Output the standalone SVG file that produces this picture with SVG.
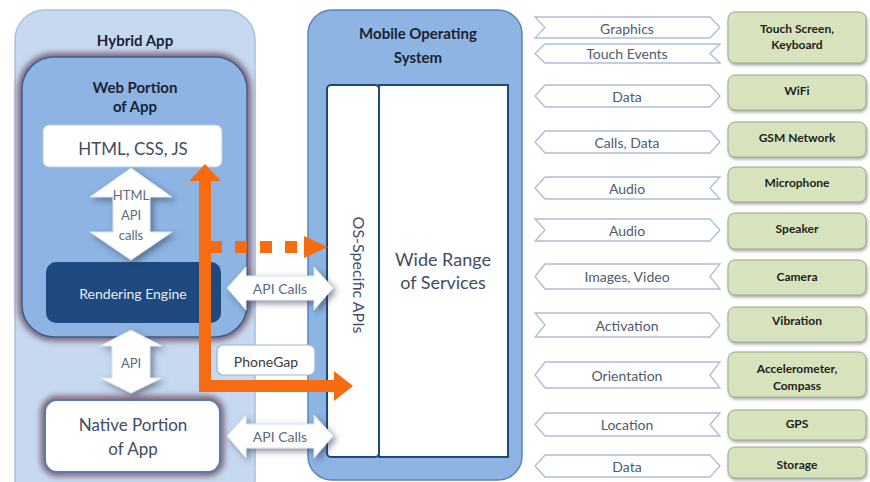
<svg xmlns="http://www.w3.org/2000/svg" width="870" height="482" viewBox="0 0 870 482">
<defs>
<filter id="glow" x="-20%" y="-20%" width="140%" height="140%">
<feGaussianBlur stdDeviation="3"/>
</filter>
<filter id="shadow" x="-20%" y="-30%" width="150%" height="170%">
<feGaussianBlur in="SourceAlpha" stdDeviation="3"/>
<feOffset dx="3" dy="3" result="b"/>
<feFlood flood-color="#2f3b4c" flood-opacity="0.55"/>
<feComposite in2="b" operator="in"/>
<feMerge><feMergeNode/><feMergeNode in="SourceGraphic"/></feMerge>
</filter>
<filter id="gshadow" x="-10%" y="-20%" width="130%" height="150%">
<feGaussianBlur in="SourceAlpha" stdDeviation="1.5"/>
<feOffset dx="1" dy="2" result="b"/>
<feFlood flood-color="#555" flood-opacity="0.5"/>
<feComposite in2="b" operator="in"/>
<feMerge><feMergeNode/><feMergeNode in="SourceGraphic"/></feMerge>
</filter>
</defs>
<style>
text{font-family:Lato,"Open Sans","Liberation Sans",sans-serif;text-anchor:middle;dominant-baseline:central}
.title{font-weight:bold;font-size:15px;fill:#1c2333}
.lbl{font-size:17px;fill:#3f4d63}
.chev{fill:#ffffff;stroke:#aebdd3;stroke-width:1.3}
.ctext{font-size:14px;fill:#4f5b6b}
.green{fill:#d7e3bc;stroke:#9aa88a;stroke-width:1}
.gtext{font-size:12px;font-weight:bold;fill:#1e1e1e}
.warrow{fill:#ffffff;stroke:#d8e2ef;stroke-width:1}
.orange{fill:#f56c12}
</style>

<g id="hybrid-app">
<rect x="15" y="10" width="240" height="500" rx="30" fill="#c6d9f1" stroke="#a9c0dc" stroke-width="1.5"/>
<text class="title" x="135" y="40">Hybrid App</text>
</g>

<g id="web-portion">
<rect x="22" y="57" width="225" height="280" rx="32" fill="none" stroke="#6e4e60" stroke-width="7" filter="url(#glow)"/>
<rect x="22" y="57" width="225" height="280" rx="32" fill="#8db4e3" stroke="#3d5f8f" stroke-width="1.5"/>
<text class="title" x="135" y="87">Web Portion</text>
<text class="title" x="135" y="106">of App</text>
</g>

<g id="html-css-js">
<rect x="43" y="125" width="179" height="42" rx="6" fill="#ffffff" stroke="#b8c9df" stroke-width="1"/>
<text class="lbl" x="133" y="148">HTML, CSS, JS</text>
</g>

<g id="rendering-engine">
<rect x="46" y="262" width="175" height="61" rx="10" fill="#1f4a7f"/>
<text x="133" y="293" style="font-size:14px;fill:#e8eef7">Rendering Engine</text>
</g>

<g id="native-portion">
<rect x="45" y="400" width="175" height="72" rx="12" fill="none" stroke="#7a5a6a" stroke-width="8" filter="url(#glow)"/>
<rect x="45" y="400" width="175" height="72" rx="12" fill="#ffffff" stroke="#5a7aa8" stroke-width="2"/>
<text class="lbl" x="133" y="424">Native Portion</text>
<text class="lbl" x="133" y="448">of App</text>
</g>

<g id="mobile-os">
<rect x="308" y="10" width="214" height="470" rx="24" fill="#8db4e3" stroke="#5b82b8" stroke-width="1.5"/>
<text class="title" x="418" y="33">Mobile  Operating</text>
<text class="title" x="418" y="57">System</text>
</g>

<g id="os-specific-apis">
<rect x="327" y="85" width="52" height="372" rx="4" fill="#ffffff" stroke="#1f497d" stroke-width="2"/>
<text class="lbl" x="0" y="0" transform="translate(359,275) rotate(90)" style="font-size:16px">OS-Specific APIs</text>
</g>

<g id="wide-range">
<rect x="379" y="85" width="129" height="372" fill="#ffffff" stroke="#1f497d" stroke-width="2"/>
<text class="lbl" x="443" y="259" style="font-size:18px">Wide Range</text>
<text class="lbl" x="443" y="282" style="font-size:18px">of Services</text>
</g>

<g id="phonegap">
<rect x="217" y="345" width="98" height="30" rx="6" fill="#ffffff" stroke="#9fb3cf" stroke-width="1.2"/>
<text x="266" y="361" style="font-size:14px;fill:#3a3a3a">PhoneGap</text>
</g>

<g id="connectors">
<polygon class="warrow" filter="url(#shadow)" points="131,168 172,197 150,197 150,232 172,232 131,260 90,232 113,232 113,197 90,197"/>
<text x="131" y="195" style="font-size:13px;fill:#5b6b80">HTML</text>
<text x="131" y="215" style="font-size:13px;fill:#5b6b80">API</text>
<text x="131" y="235" style="font-size:13px;fill:#5b6b80">calls</text>

<polygon class="warrow" filter="url(#shadow)" points="131,330 162,346 150,346 150,378 162,378 131,393 100,378 112,378 112,346 100,346"/>
<text x="131" y="363" style="font-size:13px;fill:#5b6b80">API</text>

<polygon class="warrow" filter="url(#shadow)" points="227,288 246,267 246,276 314,276 314,267 333,288 314,310 314,300 246,300 246,310"/>
<text x="280" y="288" style="font-size:14px;fill:#5b6b80">API Calls</text>

<polygon class="warrow" filter="url(#shadow)" points="227,436 246,415 246,424 314,424 314,415 333,436 314,458 314,448 246,448 246,458"/>
<text x="280" y="436" style="font-size:14px;fill:#5b6b80">API Calls</text>

<rect class="orange" x="199" y="180" width="12" height="212"/>
<polygon class="orange" points="205,164 221,181 189,181"/>
<rect class="orange" x="199" y="380" width="137" height="12"/>
<polygon class="orange" points="353,386 334,371 334,401"/>
<line x1="210" y1="247" x2="304" y2="247" stroke="#f56c12" stroke-width="12" stroke-dasharray="12 13"/>
<polygon class="orange" points="328,247 304,236 304,258"/>
</g>

<g id="chevrons">
<polygon class="chev" points="535,17 710,17 720,27.5 710,38 535,38 545,27.5"/>
<text class="ctext" x="627" y="28">Graphics</text>
<polygon class="chev" points="545,44 720,44 710,53.5 720,63 545,63 535,53.5"/>
<text class="ctext" x="627" y="53">Touch Events</text>
<polygon class="chev" points="545,85 710,85 720,96 710,107 545,107 535,96"/>
<text class="ctext" x="627" y="96">Data</text>
<polygon class="chev" points="545,131 710,131 720,142 710,153 545,153 535,142"/>
<text class="ctext" x="627" y="142">Calls, Data</text>
<polygon class="chev" points="545,177 720,177 710,188 720,199 545,199 535,188"/>
<text class="ctext" x="627" y="188">Audio</text>
<polygon class="chev" points="535,219 710,219 720,230 710,241 535,241 545,230"/>
<text class="ctext" x="627" y="230">Audio</text>
<polygon class="chev" points="545,264 720,264 710,276.5 720,289 545,289 535,276.5"/>
<text class="ctext" x="627" y="276">Images, Video</text>
<polygon class="chev" points="535,313 710,313 720,325 710,337 535,337 545,325"/>
<text class="ctext" x="627" y="325">Activation</text>
<polygon class="chev" points="545,362 720,362 710,375 720,388 545,388 535,375"/>
<text class="ctext" x="627" y="375">Orientation</text>
<polygon class="chev" points="545,413 720,413 710,424.5 720,436 545,436 535,424.5"/>
<text class="ctext" x="627" y="424">Location</text>
<polygon class="chev" points="545,455 710,455 720,466 710,477 545,477 535,466"/>
<text class="ctext" x="627" y="466">Data</text>
</g>

<g id="touch-screen"><rect class="green" filter="url(#gshadow)" x="728" y="12" width="138" height="51" rx="7"/><text class="gtext" x="797" y="28">Touch Screen,</text><text class="gtext" x="797" y="44">Keyboard</text></g>
<g id="wifi"><rect class="green" filter="url(#gshadow)" x="728" y="75" width="138" height="35" rx="7"/><text class="gtext" x="797" y="90">WiFi</text></g>
<g id="gsm"><rect class="green" filter="url(#gshadow)" x="728" y="122" width="138" height="35" rx="7"/><text class="gtext" x="797" y="137">GSM Network</text></g>
<g id="microphone"><rect class="green" filter="url(#gshadow)" x="728" y="167" width="138" height="35" rx="7"/><text class="gtext" x="797" y="182">Microphone</text></g>
<g id="speaker"><rect class="green" filter="url(#gshadow)" x="728" y="213" width="138" height="36" rx="7"/><text class="gtext" x="797" y="228">Speaker</text></g>
<g id="camera"><rect class="green" filter="url(#gshadow)" x="728" y="260" width="138" height="35" rx="7"/><text class="gtext" x="797" y="276">Camera</text></g>
<g id="vibration"><rect class="green" filter="url(#gshadow)" x="728" y="307" width="138" height="35" rx="7"/><text class="gtext" x="797" y="320">Vibration</text></g>
<g id="accelerometer"><rect class="green" filter="url(#gshadow)" x="728" y="352" width="138" height="45" rx="7"/><text class="gtext" x="797" y="368">Accelerometer,</text><text class="gtext" x="797" y="385">Compass</text></g>
<g id="gps"><rect class="green" filter="url(#gshadow)" x="728" y="410" width="138" height="30" rx="7"/><text class="gtext" x="797" y="423">GPS</text></g>
<g id="storage"><rect class="green" filter="url(#gshadow)" x="728" y="447" width="138" height="31" rx="7"/><text class="gtext" x="797" y="464">Storage</text></g>
</svg>
